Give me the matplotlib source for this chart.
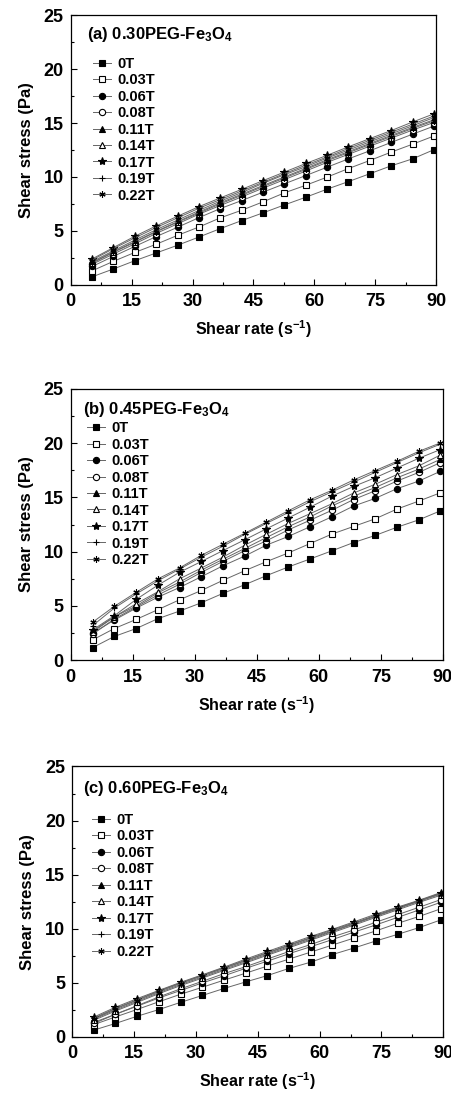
import numpy as np
import matplotlib
matplotlib.use('Agg')
import matplotlib.pyplot as plt
from matplotlib.ticker import MultipleLocator

plt.rcParams['font.family'] = ['Liberation Sans', 'DejaVu Sans']
plt.rcParams['font.weight'] = 'bold'
plt.rcParams['mathtext.fontset'] = 'custom'
plt.rcParams['mathtext.rm'] = 'Liberation Sans:bold'
plt.rcParams['mathtext.bf'] = 'Liberation Sans:bold'
plt.rcParams['mathtext.default'] = 'bf'

# shear rate (s^-1)
rate = [5.3, 10.5, 15.8, 21.0, 26.3, 31.6, 36.8, 42.1, 47.3, 52.6,
        57.9, 63.1, 68.4, 73.6, 78.9, 84.2, 89.4]
fields = ['0T', '0.03T', '0.06T', '0.08T', '0.11T', '0.14T', '0.17T', '0.19T', '0.22T']

# (a) 0.30PEG-Fe3O4
a_0T = [0.74, 1.46, 2.23, 2.94, 3.66, 4.43, 5.20, 5.95, 6.66, 7.40, 8.12, 8.86, 9.57, 10.29, 11.03, 11.68, 12.52]
a_003 = [1.30, 2.17, 3.00, 3.75, 4.58, 5.36, 6.20, 6.91, 7.68, 8.52, 9.23, 9.98, 10.78, 11.52, 12.30, 13.04, 13.79]
a_006 = [1.70, 2.63, 3.56, 4.46, 5.33, 6.23, 7.06, 7.81, 8.58, 9.36, 10.13, 10.90, 11.68, 12.42, 13.20, 13.97, 14.71]
a_008 = [1.90, 2.85, 3.80, 4.75, 5.65, 6.55, 7.35, 8.15, 8.95, 9.75, 10.55, 11.35, 12.10, 12.85, 13.60, 14.35, 15.05]
a_011 = [2.15, 3.15, 4.15, 5.10, 6.00, 6.90, 7.75, 8.55, 9.40, 10.20, 10.95, 11.75, 12.50, 13.25, 14.00, 14.75, 15.50]
a_014 = [2.05, 3.05, 4.00, 4.95, 5.85, 6.75, 7.60, 8.40, 9.20, 10.00, 10.80, 11.60, 12.35, 13.10, 13.85, 14.60, 15.30]
a_017 = [2.40, 3.45, 4.50, 5.45, 6.35, 7.25, 8.05, 8.85, 9.65, 10.45, 11.25, 12.00, 12.80, 13.55, 14.30, 15.10, 15.85]
a_019 = [2.30, 3.35, 4.35, 5.30, 6.20, 7.10, 7.90, 8.70, 9.50, 10.30, 11.10, 11.85, 12.65, 13.40, 14.15, 14.90, 15.65]
a_022 = [2.00, 3.00, 3.95, 4.90, 5.80, 6.65, 7.50, 8.30, 9.10, 9.90, 10.70, 11.50, 12.25, 13.00, 13.75, 14.50, 15.20]

# (b) 0.45PEG-Fe3O4
b_0T = [1.17, 2.19, 2.92, 3.82, 4.53, 5.30, 6.16, 6.96, 7.79, 8.59, 9.33, 10.07, 10.84, 11.49, 12.25, 12.93, 13.76]
b_003 = [1.88, 2.92, 3.76, 4.65, 5.57, 6.43, 7.36, 8.25, 9.08, 9.88, 10.75, 11.61, 12.32, 13.02, 13.92, 14.66, 15.42]
b_006 = [2.50, 3.70, 4.80, 5.80, 6.70, 7.70, 8.70, 9.60, 10.60, 11.40, 12.30, 13.20, 14.20, 14.90, 15.80, 16.50, 17.40]
b_008 = [2.40, 3.80, 4.90, 6.00, 7.00, 8.10, 9.10, 10.10, 11.00, 12.00, 12.90, 13.80, 14.80, 15.60, 16.50, 17.30, 18.20]
b_011 = [2.70, 4.00, 5.00, 6.20, 7.20, 8.30, 9.30, 10.30, 11.30, 12.30, 13.20, 14.20, 15.10, 15.90, 16.80, 17.60, 18.50]
b_014 = [2.60, 4.00, 5.20, 6.30, 7.50, 8.50, 9.50, 10.60, 11.60, 12.60, 13.50, 14.40, 15.40, 16.20, 17.10, 17.90, 18.90]
b_017 = [2.80, 4.10, 5.60, 6.90, 8.10, 9.10, 10.10, 11.10, 12.10, 13.10, 14.10, 15.10, 16.00, 16.80, 17.70, 18.60, 19.40]
b_019 = [3.20, 4.80, 6.10, 7.30, 8.40, 9.50, 10.50, 11.60, 12.60, 13.60, 14.60, 15.50, 16.40, 17.30, 18.20, 19.10, 19.90]
b_022 = [3.51, 4.96, 6.25, 7.48, 8.50, 9.67, 10.68, 11.70, 12.72, 13.76, 14.78, 15.64, 16.60, 17.46, 18.32, 19.24, 20.01]

# (c) 0.60PEG-Fe3O4
c_0T = [0.64, 1.25, 1.92, 2.53, 3.20, 3.84, 4.48, 5.09, 5.67, 6.34, 6.92, 7.62, 8.23, 8.87, 9.48, 10.12, 10.82]
c_003 = [1.15, 1.85, 2.55, 3.25, 3.95, 4.60, 5.25, 5.90, 6.55, 7.20, 7.85, 8.50, 9.15, 9.80, 10.50, 11.15, 11.85]
c_006 = [1.35, 2.10, 2.85, 3.60, 4.30, 5.00, 5.65, 6.35, 7.00, 7.70, 8.35, 9.00, 9.70, 10.35, 11.05, 11.75, 12.45]
c_008 = [1.25, 2.10, 2.90, 3.70, 4.45, 5.15, 5.85, 6.50, 7.20, 7.90, 8.55, 9.25, 9.90, 10.60, 11.30, 12.00, 12.70]
c_011 = [1.70, 2.60, 3.40, 4.20, 4.95, 5.65, 6.35, 7.05, 7.75, 8.45, 9.15, 9.80, 10.50, 11.20, 11.90, 12.60, 13.30]
c_014 = [1.55, 2.40, 3.20, 4.00, 4.75, 5.45, 6.15, 6.85, 7.55, 8.25, 8.95, 9.65, 10.35, 11.05, 11.75, 12.45, 13.10]
c_017 = [1.85, 2.75, 3.55, 4.30, 5.05, 5.75, 6.45, 7.20, 7.90, 8.60, 9.30, 9.95, 10.65, 11.35, 12.00, 12.65, 13.35]
c_019 = [1.75, 2.65, 3.45, 4.25, 5.00, 5.70, 6.40, 7.10, 7.80, 8.50, 9.20, 9.90, 10.55, 11.25, 11.95, 12.60, 13.25]
c_022 = [1.65, 2.50, 3.30, 4.10, 4.85, 5.55, 6.25, 6.95, 7.65, 8.35, 9.05, 9.75, 10.45, 11.15, 11.85, 12.55, 13.20]

panels = [
    ('(a) 0.30PEG-Fe$_3$O$_4$', [a_0T, a_003, a_006, a_008, a_011, a_014, a_017, a_019, a_022]),
    ('(b) 0.45PEG-Fe$_3$O$_4$', [b_0T, b_003, b_006, b_008, b_011, b_014, b_017, b_019, b_022]),
    ('(c) 0.60PEG-Fe$_3$O$_4$', [c_0T, c_003, c_006, c_008, c_011, c_014, c_017, c_019, c_022]),
]

# marker, filled?
styles = [('s', True), ('s', False), ('o', True), ('o', False), ('^', True),
          ('^', False), ('*', True), ('+', True), ((6, 2, 0), True)]

# axes boxes in figure fractions [left, bottom, width, height]
boxes = [[0.157, 0.740, 0.810, 0.246],
         [0.157, 0.397, 0.825, 0.248],
         [0.160, 0.053, 0.823, 0.247]]
title_pos = [(0.044, 0.929), (0.032, 0.924), (0.030, 0.919)]
leg_pos = [(0.045, 0.868), (0.028, 0.902), (0.038, 0.850)]

fig = plt.figure(figsize=(4.51, 10.95), dpi=100)
for (title, series), box, tp, lp in zip(panels, boxes, title_pos, leg_pos):
    ax = fig.add_axes(box)
    for name, y, (m, filled) in zip(fields, series, styles):
        ms = 6 if m == '*' else 4.5
        ax.plot(rate, y, color='0.4', lw=0.7, marker=m, ms=ms,
                mfc='black' if filled else 'white', mec='black', mew=0.8,
                label=name)
    ax.set_xlim(0, 90)
    ax.set_ylim(0, 25)
    ax.xaxis.set_major_locator(MultipleLocator(15))
    ax.xaxis.set_minor_locator(MultipleLocator(7.5))
    ax.yaxis.set_major_locator(MultipleLocator(5))
    ax.yaxis.set_minor_locator(MultipleLocator(2.5))
    ax.tick_params(which='both', direction='in', top=False, right=False,
                   labelsize=13, width=0.8)
    ax.tick_params(which='major', length=4)
    ax.tick_params(which='minor', length=2)
    ax.tick_params(axis='x', pad=6)
    ax.tick_params(axis='y', pad=5)
    for s in ax.spines.values():
        s.set_linewidth(0.9)
    ax.set_xlabel('Shear rate (s$^{-1}$)', fontsize=11.5, fontweight='bold', labelpad=6)
    ax.set_ylabel('Shear stress (Pa)', fontsize=12, fontweight='bold', labelpad=7)
    ax.text(tp[0], tp[1], title, transform=ax.transAxes, fontsize=12,
            fontweight='bold', va='center', ha='left')
    ax.legend(loc='upper left', bbox_to_anchor=lp, frameon=False,
              handlelength=1.2, handletextpad=0.45,
              labelspacing=0.17, borderaxespad=0, prop={'weight': 'bold', 'size': 10.5})

fig.savefig('out.png', dpi=100)
